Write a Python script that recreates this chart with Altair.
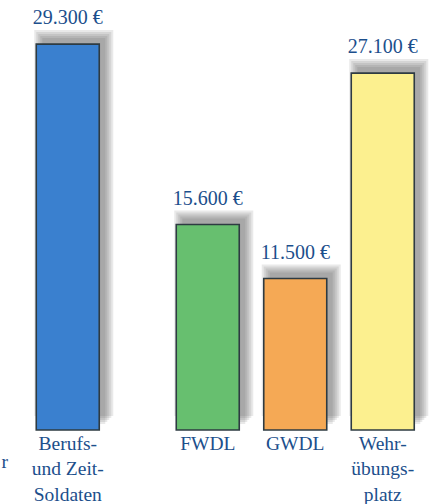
import altair as alt
import pandas as pd

categories = ["Berufs-|und Zeit-|Soldaten", "FWDL", "GWDL", "Wehr-|übungs-|platz"]
values = [29300, 15600, 11500, 27100]
value_labels = ["29.300 €", "15.600 €", "11.500 €", "27.100 €"]
colors = ["#3a80cf", "#67bf6f", "#f5a955", "#fcf08f"]
group = ["A", "B", "B", "B"]
cut_label = "r"  # tail of a label cut off at the left edge of the original

df = pd.DataFrame({"cat": categories, "value": values, "label": value_labels,
                   "color": colors, "group": group})

FONT = "'Liberation Serif', 'Times New Roman', serif"
TEXT_COLOR = "#1c4f8c"
YMAX = 32650


def panel(sub, width, extra=None):
    order = list(sub["cat"])
    x = alt.X("cat:N", sort=order,
              scale=alt.Scale(paddingInner=0.28, paddingOuter=0.14),
              axis=alt.Axis(title=None, ticks=False, domain=False, labelAngle=0,
                            labelExpr="split(datum.label, '|')",
                            labelFont=FONT, labelFontSize=19.5, labelColor=TEXT_COLOR,
                            labelLineHeight=25.5, labelPadding=4, labelBaseline="top"))
    y = alt.Y("value:Q", scale=alt.Scale(domain=[0, YMAX], nice=False), axis=None)
    base = alt.Chart(sub).encode(x=x, y=y)
    layers = []
    for e in [8, 6, 4, 2, 0]:
        layers.append(base.mark_bar(color="#555555", opacity=0.13, width=63 + 2 * e,
                                    xOffset=6, yOffset=-6 - e, y2Offset=-6 + e))
    bars = base.mark_bar(width=63, stroke="#2e3b42", strokeWidth=1.6).encode(
        color=alt.Color("color:N", scale=None))
    text = base.mark_text(font=FONT, fontSize=20, color=TEXT_COLOR, dy=-20,
                          baseline="alphabetic").encode(text="label:N")
    layers += [bars, text]
    if extra is not None:
        layers.append(extra)
    return alt.layer(*layers).properties(width=width, height=430)


cut = alt.Chart(pd.DataFrame({"t": [cut_label]})).mark_text(
    font=FONT, fontSize=19.5, color=TEXT_COLOR, align="right", baseline="alphabetic"
).encode(text="t:N", x=alt.value(-16), y=alt.value(468))

left = panel(df[df.group == "A"], 87.5, cut)
right = panel(df[df.group == "B"], 262.5)

chart = alt.hconcat(left, right, spacing=52, bounds="flush").properties(
    padding={"left": 1, "top": 0, "right": 0, "bottom": 0}
).configure(background="white", font=FONT).configure_view(stroke=None, strokeWidth=0)

chart.save("out.html", embed_options={"renderer": "svg", "actions": False})
